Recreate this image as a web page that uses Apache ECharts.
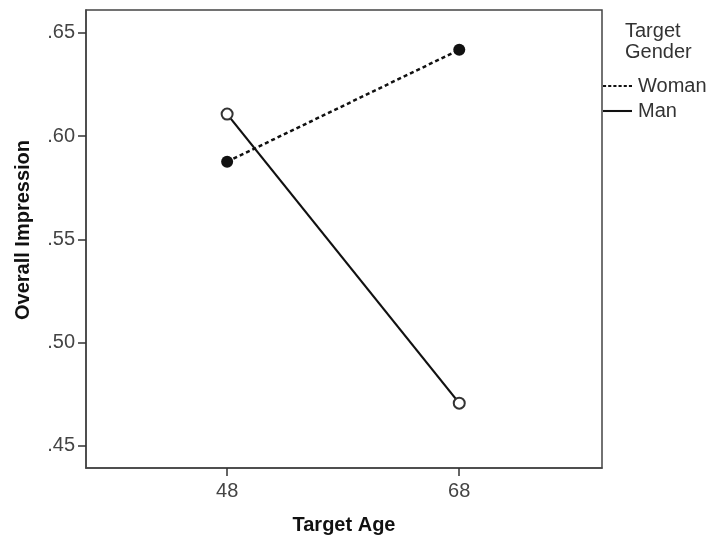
<!DOCTYPE html>
<html>
<head>
<meta charset="utf-8">
<script src="https://cdn.jsdelivr.net/npm/echarts@6/dist/echarts.min.js"></script>
<style>html,body{margin:0;padding:0;background:#fff}#c{width:710px;height:542px}</style>
</head>
<body>
<div id="c"></div>
<script>
var ages = [48, 68];
var womanValues = [0.5876, 0.6418];
var manValues = [0.6107, 0.4707];
var yTicks = [0.45, 0.50, 0.55, 0.60, 0.65];
var seriesNames = ['Woman', 'Man'];

var chart = echarts.init(document.getElementById('c'));
var font = '"Liberation Sans", Arial, sans-serif';
function pairs(vals) { return ages.map(function (a, i) { return [a, vals[i]]; }); }

chart.setOption({
  animation: false,
  backgroundColor: '#fff',
  title: {
    text: 'Target\nGender',
    left: 625, top: 21, padding: 0,
    textStyle: { fontFamily: font, fontSize: 20, fontWeight: 'normal', color: '#333', lineHeight: 21 }
  },
  legend: {
    orient: 'vertical', left: 603, top: 76, padding: 0,
    itemWidth: 29, itemHeight: 2.5, itemGap: 5,
    textStyle: { fontFamily: font, fontSize: 20, color: '#333', lineHeight: 20, padding: [0, 0, 0, 1] },
    data: [
      { name: seriesNames[0], icon: 'path://M0,0h3v2h-3zM5,0h3v2h-3zM10,0h3v2h-3zM15,0h3v2h-3zM20,0h3v2h-3zM25,0h3v2h-3z', itemStyle: { color: '#111' } },
      { name: seriesNames[1], icon: 'path://M0,0h28v2h-28z', itemStyle: { color: '#111' } }
    ]
  },
  grid: { left: 86, top: 10, right: 108, bottom: 74, show: true, borderColor: '#444', borderWidth: 1.5, backgroundColor: 'transparent' },
  xAxis: {
    type: 'value', min: 35.84, max: 80.3,
    name: 'Target Age', nameLocation: 'middle', nameGap: 47,
    nameTextStyle: { fontFamily: font, fontSize: 20, fontWeight: 'bold', color: '#111' },
    axisLine: { show: true, lineStyle: { color: '#444', width: 1.5 } },
    axisTick: { show: true, customValues: ages, length: 8, lineStyle: { color: '#333', width: 1.5 } },
    axisLabel: { customValues: ages, margin: 13, fontFamily: font, fontSize: 20, color: '#444' },
    splitLine: { show: false }
  },
  yAxis: {
    type: 'value', min: 0.4393, max: 0.6611,
    name: 'Overall Impression', nameLocation: 'middle', nameGap: 53,
    nameTextStyle: { fontFamily: font, fontSize: 20, fontWeight: 'bold', color: '#111', padding: [0, 0, 0, 18] },
    axisLine: { show: true, lineStyle: { color: '#444', width: 1.5 } },
    axisTick: { show: true, customValues: yTicks, length: 8, lineStyle: { color: '#333', width: 1.5 } },
    axisLabel: {
      customValues: yTicks, margin: 11, fontFamily: font, fontSize: 20, color: '#444',
      formatter: function (v) { return v.toFixed(2).replace(/^0/, ''); }
    },
    splitLine: { show: false }
  },
  series: [
    {
      name: seriesNames[0], type: 'line', data: pairs(womanValues),
      symbol: 'circle', symbolSize: 12,
      lineStyle: { color: '#111', width: 2.5, type: [4, 3] },
      itemStyle: { color: '#111' }
    },
    {
      name: seriesNames[1], type: 'line', data: pairs(manValues),
      symbol: 'emptyCircle', symbolSize: 11,
      lineStyle: { color: '#111', width: 2.2 },
      itemStyle: { color: '#333', borderWidth: 1.4 }
    }
  ]
});
</script>
</body>
</html>
